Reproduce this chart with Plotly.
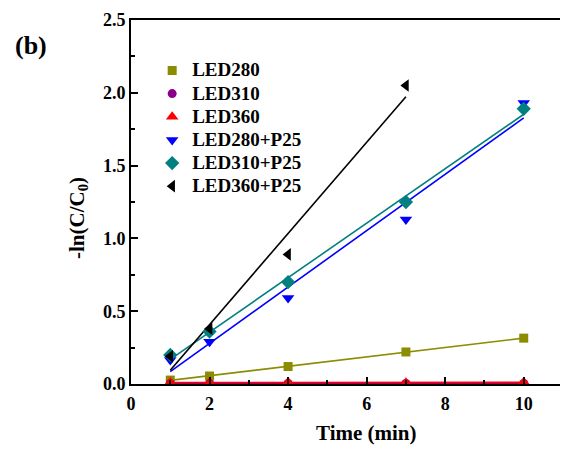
import numpy as np
import plotly.graph_objects as go

time_led280 = [1, 2, 4, 7, 10]
led280 = [0.027, 0.055, 0.12, 0.22, 0.315]
time_led310 = [1, 2, 4, 7, 10]
led310 = [0.004, 0.004, 0.004, 0.004, 0.004]
time_led360 = [1, 2, 4, 7, 10]
led360 = [0.01, 0.01, 0.012, 0.008, 0.012]
time_led280_p25 = [1, 2, 4, 7, 10]
led280_p25 = [0.165, 0.29, 0.59, 1.13, 1.93]
time_led310_p25 = [1, 2, 4, 7, 10]
led310_p25 = [0.20, 0.36, 0.70, 1.25, 1.89]
time_led360_p25 = [1, 2, 4, 7]
led360_p25 = [0.19, 0.38, 0.89, 2.05]

series = [
    ("LED280", time_led280, led280, "#8c8c00", "square"),
    ("LED310", time_led310, led310, "#8b008b", "circle"),
    ("LED360", time_led360, led360, "#ff0000", "triangle-up"),
    ("LED280+P25", time_led280_p25, led280_p25, "#0000ff", "triangle-down"),
    ("LED310+P25", time_led310_p25, led310_p25, "#008080", "diamond"),
    ("LED360+P25", time_led360_p25, led360_p25, "#000000", "triangle-left"),
]

font_family = "Liberation Serif"
fig = go.Figure()

# fitted lines
for name, xs, ys, color, sym in series:
    k, b = np.polyfit(xs, ys, 1)
    xf = [xs[0], xs[-1]]
    yf = [k * xf[0] + b, k * xf[1] + b]
    fig.add_trace(go.Scatter(x=xf, y=yf, mode="lines", line=dict(color=color, width=1.6),
                             showlegend=False, hoverinfo="skip"))

for name, xs, ys, color, sym in series:
    size = 11 if sym in ("diamond", "triangle-left", "triangle-down", "triangle-up") else 9
    fig.add_trace(go.Scatter(x=xs, y=ys, mode="markers",
                             name="<span style='font-size:19px'>" + name + "</span>",
                             marker=dict(symbol=sym, color=color, size=size, line=dict(width=0))))

axis_common = dict(
    showline=True, linecolor="black", linewidth=2, mirror=True,
    ticks="inside", tickcolor="black", tickwidth=2, ticklen=7,
    showgrid=False, zeroline=False, automargin=False,
    tickfont=dict(family=font_family, size=18, color="black", weight="bold"),
)

# page body adds an 8px margin, so the figure is 8px smaller than the window
fig.update_layout(
    width=560, height=442,
    margin=dict(l=123, r=5, t=12, b=66),
    paper_bgcolor="white", plot_bgcolor="white",
    font=dict(family=font_family, color="black"),
    xaxis=dict(range=[0, 11], tickvals=[0, 2, 4, 6, 8, 10], ticklabelstandoff=2,
               minor=dict(tickvals=[1, 3, 5, 7, 9], ticks="inside", ticklen=4, tickwidth=2, tickcolor="black"),
               **axis_common),
    yaxis=dict(range=[0, 2.5], tickvals=[0, 0.5, 1.0, 1.5, 2.0, 2.5], tickformat=".1f",
               minor=dict(tickvals=[0.25, 0.75, 1.25, 1.75, 2.25], ticks="inside", ticklen=4, tickwidth=2, tickcolor="black"),
               **axis_common),
    legend=dict(x=0.049, y=0.907, xanchor="left", yanchor="top", bgcolor="rgba(0,0,0,0)",
                font=dict(family=font_family, size=15.5, color="black", weight="bold"),
                tracegroupgap=0, itemwidth=30),
    showlegend=True,
)

fig.add_annotation(text="<b>Time (min)</b>", xref="paper", yref="paper",
                   x=(366 - 131) / 432, y=-(433 - 384) / 364,
                   xanchor="center", yanchor="middle", showarrow=False,
                   font=dict(family=font_family, size=21, color="black"))
fig.add_annotation(text="<b>-ln(C/C<sub>0</sub>)</b>", xref="paper", yref="paper",
                   x=(78 - 131) / 432, y=(384 - 218) / 364, textangle=-90,
                   xanchor="center", yanchor="middle", showarrow=False,
                   font=dict(family=font_family, size=21, color="black"))
fig.add_annotation(text="<b>(b)</b>", xref="paper", yref="paper",
                   x=(13 - 131) / 432, y=(384 - 46) / 364,
                   xanchor="left", yanchor="middle", showarrow=False,
                   font=dict(family=font_family, size=26, color="black"))

fig.write_html("out.html")
